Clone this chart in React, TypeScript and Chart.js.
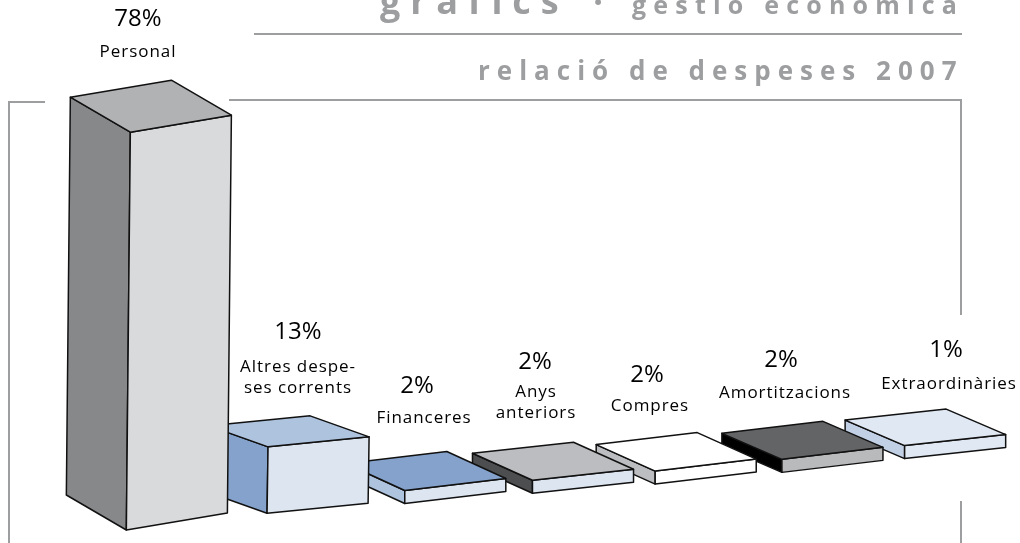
import React, { useEffect, useRef } from "react";
import { Chart, registerables } from "chart.js";

Chart.register(...registerables);

// ---- data ----
const categories = ["Personal", "Altres despeses corrents", "Financeres", "Anys anteriors", "Compres", "Amortitzacions", "Extraordinàries"];
const percentLabels = [78, 13, 2, 2, 2, 2, 1];
// height of each block, in percent units of the y axis (thin blocks share one drawn thickness)
const blockHeights = [78, 13, 2.55, 2.55, 2.55, 2.55, 2.55];
// how far each block's front corner climbs above the floor of the axis
const floorLift = [0, 3.3, 5.2, 7.2, 9.0, 11.3, 14.0];

const titleMain = "gràfics";
const titleDot = "·";
const titleSub = "gestió econòmica";
const subtitle = "relació de despeses 2007";

// ---- styling and layout ----
const GREY = "#9d9ea0";
const FONT = '"Open Sans", "Noto Sans", sans-serif';
const LABEL_LINES: string[][] = [["Personal"], ["Altres despe-", "ses corrents"], ["Financeres"], ["Anys", "anteriors"], ["Compres"], ["Amortitzacions"], ["Extraordinàries"]];
const BLOCKS = [
  { top: "#b1b2b4", left: "#87888a", front: "#d9dadc", nudge: 0, rise: 17, depthX: 60, depthY: 35, lean: 4, pctX: 138, pctY: 19, lineX: 138, lineY: [52] },
  { top: "#aec3de", left: "#84a2cb", front: "#dde5f1", nudge: 11, rise: 10, depthX: 59, depthY: 21, lean: 1, pctX: 298, pctY: 332, lineX: 298, lineY: [367, 388] },
  { top: "#84a2cb", left: "#aec3de", front: "#dde5f1", nudge: 19, rise: 12, depthX: 59, depthY: 27, lean: 0, pctX: 417, pctY: 386, lineX: 424, lineY: [418] },
  { top: "#bcbdc0", left: "#4d4e50", front: "#dde5f1", nudge: 17, rise: 11, depthX: 60, depthY: 27, lean: 0, pctX: 535, pctY: 362, lineX: 536, lineY: [392, 413] },
  { top: "#ffffff", left: "#bcbdc0", front: "#ffffff", nudge: 10, rise: 12, depthX: 59, depthY: 26.5, lean: 0, pctX: 647, pctY: 375, lineX: 650, lineY: [406] },
  { top: "#636466", left: "#000000", front: "#b9babc", nudge: 7, rise: 12, depthX: 60, depthY: 26, lean: 0, pctX: 781, pctY: 360, lineX: 785, lineY: [393] },
  { top: "#e0e8f3", left: "#c2d0e6", front: "#e0e8f3", nudge: 0, rise: 11, depthX: 59.5, depthY: 25.5, lean: 0, pctX: 946, pctY: 350, lineX: 949, lineY: [384] },
];
const FRAME_SEGMENTS = [
  [[9, 543], [9, 102], [45, 102]],
  [[229, 100], [961, 100], [961, 315]],
  [[961, 501], [961, 543]],
  [[254, 34], [962, 34]],
];

function face(ctx: CanvasRenderingContext2D, pts: number[][], fill: string) {
  ctx.beginPath();
  pts.forEach(([x, y], i) => (i ? ctx.lineTo(x, y) : ctx.moveTo(x, y)));
  ctx.closePath();
  ctx.fillStyle = fill;
  ctx.fill();
  ctx.stroke();
}

function spaced(ctx: CanvasRenderingContext2D, text: string, x: number, y: number, font: string, spacing: number, align: CanvasTextAlign, color: string) {
  ctx.font = font;
  (ctx as any).letterSpacing = spacing + "px";
  ctx.textAlign = align;
  ctx.textBaseline = "alphabetic";
  ctx.fillStyle = color;
  ctx.fillText(text, x, y);
  (ctx as any).letterSpacing = "0px";
}

const blocks3d = {
  id: "blocks3d",
  beforeDatasetDraw(chart: any) {
    const ctx: CanvasRenderingContext2D = chart.ctx;
    const els = chart.getDatasetMeta(0).data;
    ctx.save();
    ctx.strokeStyle = "#111111";
    ctx.lineWidth = 1.5;
    ctx.lineJoin = "round";
    for (let i = els.length - 1; i >= 0; i--) {
      const el = els[i];
      const s = BLOCKS[i];
      const w = el.width;
      const xb = el.x - w / 2 + s.nudge;
      const xt = xb + s.lean;
      const yb = el.base;
      const yt = el.y;
      const fTL = [xt, yt], fTR = [xt + w, yt - s.rise];
      const fBL = [xb, yb], fBR = [xb + w, yb - s.rise];
      const bTL = [xt - s.depthX, yt - s.depthY];
      const bBL = [xb - s.depthX, yb - s.depthY];
      const bTR = [xt + w - s.depthX, yt - s.rise - s.depthY];
      face(ctx, [bTL, fTL, fBL, bBL], s.left);
      face(ctx, [fTL, fTR, fBR, fBL], s.front);
      face(ctx, [bTL, bTR, fTR, fTL], s.top);
    }
    ctx.restore();
    return false;
  },
  afterDatasetsDraw(chart: any) {
    const ctx: CanvasRenderingContext2D = chart.ctx;
    ctx.save();
    ctx.textBaseline = "middle";
    ctx.textAlign = "center";
    ctx.fillStyle = "#000000";
    BLOCKS.forEach((s, i) => {
      ctx.font = `400 24px ${FONT}`;
      ctx.fillText(percentLabels[i] + "%", s.pctX, s.pctY);
      ctx.font = `400 17px ${FONT}`;
      (ctx as any).letterSpacing = "0.95px";
      LABEL_LINES[i].forEach((line, k) => ctx.fillText(line, s.lineX, s.lineY[k]));
      (ctx as any).letterSpacing = "0px";
    });
    ctx.restore();
  },
};

const frame = {
  id: "frame",
  beforeDraw(chart: any) {
    const ctx: CanvasRenderingContext2D = chart.ctx;
    ctx.save();
    ctx.fillStyle = "#ffffff";
    ctx.fillRect(0, 0, chart.width, chart.height);
    ctx.strokeStyle = GREY;
    ctx.lineWidth = 2;
    ctx.lineCap = "butt";
    FRAME_SEGMENTS.forEach((seg) => {
      ctx.beginPath();
      seg.forEach(([x, y], i) => (i ? ctx.lineTo(x, y) : ctx.moveTo(x, y)));
      ctx.stroke();
    });
    spaced(ctx, titleMain, 380, 14, `700 36px ${FONT}`, 9.8, "left", GREY);
    spaced(ctx, titleDot, 598, 14, `700 34px ${FONT}`, 0, "center", GREY);
    spaced(ctx, titleSub, 632, 14, `700 25px ${FONT}`, 7.2, "left", GREY);
    spaced(ctx, subtitle, 478, 80, `700 26px ${FONT}`, 7, "left", GREY);
    ctx.restore();
  },
};

export default function App() {
  const ref = useRef<HTMLCanvasElement | null>(null);
  useEffect(() => {
    document.body.style.margin = "0";
    const chart = new Chart(ref.current!, {
      type: "bar",
      data: {
        labels: categories,
        datasets: [
          {
            label: "Despeses 2007 (%)",
            data: blockHeights.map((h, i) => [floorLift[i], floorLift[i] + h]) as any,
            barPercentage: 0.779,
            categoryPercentage: 1,
          },
        ],
      },
      options: {
        animation: false,
        responsive: false,
        layout: { padding: { left: 112, right: 0, top: 0, bottom: 0 } },
        plugins: { legend: { display: false }, tooltip: { enabled: false }, title: { display: false } },
        scales: {
          x: { type: "category", display: false },
          y: { type: "linear", display: false, min: -13 / 5.1, max: 530 / 5.1 },
        },
      },
      plugins: [frame, blocks3d],
    } as any);
    return () => chart.destroy();
  }, []);
  return (
    <div style={{ position: "fixed", left: 0, top: 0, width: 1020, height: 543, background: "#fff" }}>
      <canvas ref={ref} width={1020} height={543} style={{ display: "block" }} />
    </div>
  );
}
